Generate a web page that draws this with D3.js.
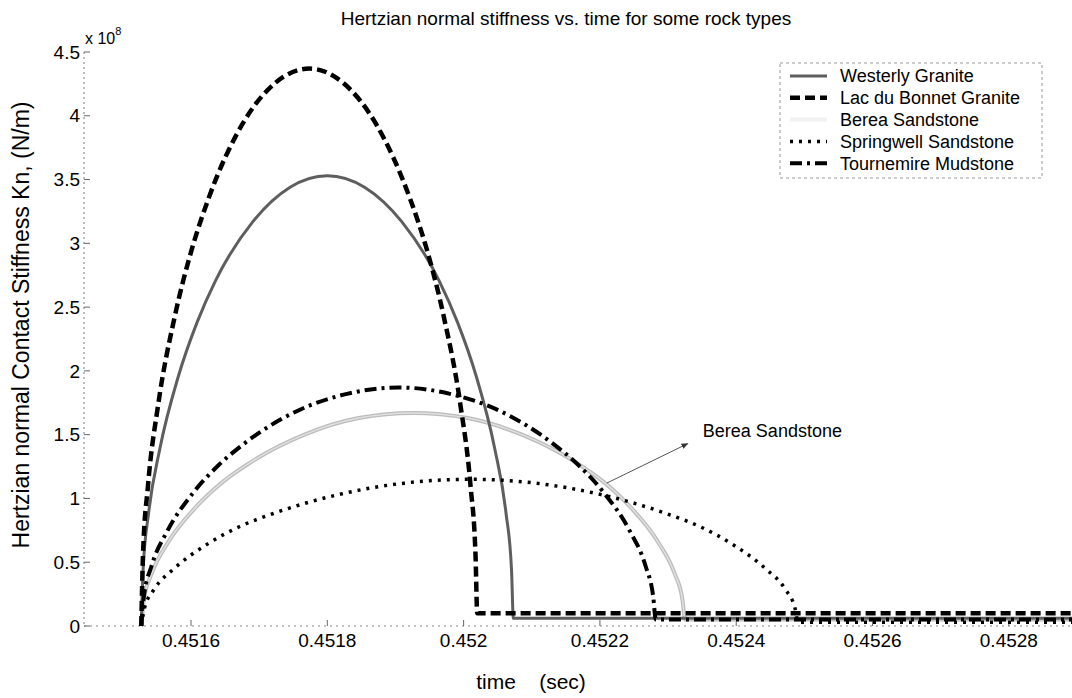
<!DOCTYPE html>
<html><head><meta charset="utf-8">
<script src="https://cdn.jsdelivr.net/npm/d3@7"></script>
<style>
body{margin:0;background:#fff;}
text{font-family:"Liberation Sans",Arial,sans-serif;fill:#000;}
</style></head>
<body><svg id="c" width="1072" height="698"></svg>
<script>
// ---- data (stiffness in units of 1e8 N/m) ----
const seriesNames = ["Westerly Granite","Lac du Bonnet Granite","Berea Sandstone","Springwell Sandstone","Tournemire Mudstone"];
const westerlyT = [0.451527,0.4515297,0.4515379,0.4515543,0.4515816,0.4516089,0.4516362,0.4516908,0.4517454,0.4518000,0.4518546,0.4519092,0.4519638,0.4519911,0.4520184,0.4520457,0.4520621,0.4520703,0.452073,0.4531];
const westerlyK = [0,0.44,0.89,1.39,1.96,2.38,2.71,3.17,3.44,3.53,3.44,3.17,2.71,2.38,1.96,1.39,0.89,0.44,0.06,0.06];
const lacT = [0.451527,0.4515295,0.4515369,0.4515517,0.4515763,0.4516010,0.4516256,0.4516749,0.4517242,0.4517735,0.4518228,0.4518721,0.4519214,0.4519461,0.4519707,0.4519954,0.4520101,0.4520175,0.452020,0.4531];
const lacK = [0,0.55,1.10,1.73,2.43,2.95,3.35,3.93,4.26,4.37,4.26,3.93,3.35,2.95,2.43,1.73,1.10,0.55,0.10,0.10];
const bereaT = [0.451527,0.451531,0.451543,0.4515669,0.4516068,0.4516467,0.4516866,0.4517664,0.4518462,0.451926,0.4520058,0.4520856,0.4521654,0.4522053,0.4522452,0.4522851,0.452309,0.452321,0.452325,0.4531];
const bereaK = [0,0.21,0.42,0.66,0.93,1.13,1.28,1.50,1.63,1.67,1.63,1.50,1.28,1.13,0.93,0.66,0.42,0.21,0.05,0.05];
const springT = [0.451527,0.4515318,0.4515463,0.4515752,0.4516234,0.4516716,0.4517198,0.4518162,0.4519126,0.452009,0.4521054,0.4522018,0.4522982,0.4523464,0.4523946,0.4524428,0.4524717,0.4524862,0.452491,0.4531];
const springK = [0,0.14,0.29,0.45,0.64,0.78,0.88,1.03,1.12,1.15,1.12,1.03,0.88,0.78,0.64,0.45,0.29,0.14,0.03,0.03];
const tourT = [0.451527,0.4515308,0.4515421,0.4515648,0.4516025,0.4516403,0.451678,0.4517535,0.451829,0.4519045,0.45198,0.4520555,0.452131,0.4521688,0.4522065,0.4522443,0.452267,0.4522782,0.452282,0.4531];
const tourK = [0,0.23,0.47,0.74,1.04,1.26,1.43,1.68,1.82,1.87,1.82,1.68,1.43,1.26,1.04,0.74,0.47,0.23,0.05,0.05];
const xTicks = [0.4516,0.4518,0.4520,0.4522,0.4524,0.4526,0.4528];
const xTickLabels = ["0.4516","0.4518","0.452","0.4522","0.4524","0.4526","0.4528"];
const yTicks = [0,0.5,1,1.5,2,2.5,3,3.5,4,4.5];
const yTickLabels = ["0","0.5","1","1.5","2","2.5","3","3.5","4","4.5"];
const arrowFrom = [0.452210, 1.12];
const arrowTo = [0.452329, 1.43];
const annotText = "Berea Sandstone";
const annotPos = [0.452351, 1.53];

// ---- layout ----
const svg = d3.select("#c");
const x = d3.scaleLinear().domain([0.451443, 0.4529]).range([84, 1077]);
const y = d3.scaleLinear().domain([0, 4.5]).range([626, 52]);

const styles = [
  {data:[westerlyT,westerlyK], stroke:"#5e5e5e", width:3, dash:null},
  {data:[lacT,lacK], stroke:"#000", width:4.5, dash:"10,5"},
  {data:[bereaT,bereaK], stroke:"#bcbcbc", width:4, dash:null, hollow:true},
  {data:[springT,springK], stroke:"#000", width:3.5, dash:"3,6"},
  {data:[tourT,tourK], stroke:"#000", width:4, dash:"12,5,3,5"}
];

// axes
const axG = svg.append("g");
axG.append("line").attr("x1",84).attr("x2",84).attr("y1",52).attr("y2",626)
  .attr("stroke","#777").attr("stroke-dasharray","2,3");
axG.append("line").attr("x1",84).attr("x2",1072).attr("y1",626).attr("y2",626)
  .attr("stroke","#888").attr("stroke-dasharray","2,4");
yTicks.forEach((v,i)=>{
  axG.append("line").attr("x1",84).attr("x2",90).attr("y1",y(v)).attr("y2",y(v)).attr("stroke","#666");
  axG.append("text").attr("x",80).attr("y",y(v)).attr("dy","0.35em").attr("text-anchor","end")
    .style("font-size","19px").text(yTickLabels[i]);
});
xTicks.forEach((v,i)=>{
  axG.append("line").attr("x1",x(v)).attr("x2",x(v)).attr("y1",626).attr("y2",620).attr("stroke","#666");
  axG.append("text").attr("x",x(v)).attr("y",647).attr("text-anchor","middle")
    .style("font-size","19px").text(xTickLabels[i]);
});

// lines
const line = d3.line().x(d=>x(d[0])).y(d=>y(d[1])).curve(d3.curveMonotoneX);
svg.append("clipPath").attr("id","cp").append("rect").attr("x",84).attr("y",0).attr("width",1000).attr("height",640);
const lg = svg.append("g").attr("clip-path","url(#cp)");
const order = [2,0,3,4,1];
order.forEach(i=>{
  const s = styles[i];
  const pts = s.data[0].map((t,k)=>[t,s.data[1][k]]);
  const p = lg.append("path").attr("d",line(pts)).attr("fill","none")
    .attr("stroke",s.stroke).attr("stroke-width",s.width);
  if(s.dash) p.attr("stroke-dasharray",s.dash);
  if(s.hollow){
    lg.append("path").attr("d",line(pts)).attr("fill","none").attr("stroke","#e0e0e0").attr("stroke-width",1.5);
  }
});

// annotation
svg.append("defs").append("marker").attr("id","ah").attr("viewBox","0 0 10 10").attr("refX",9).attr("refY",5)
  .attr("markerWidth",7).attr("markerHeight",7).attr("orient","auto")
  .append("path").attr("d","M0,1 L10,5 L0,9 z").attr("fill","#333");
svg.append("line").attr("x1",x(arrowFrom[0])).attr("y1",y(arrowFrom[1]))
  .attr("x2",x(arrowTo[0])).attr("y2",y(arrowTo[1])).attr("stroke","#555").attr("stroke-width",1)
  .attr("marker-end","url(#ah)");
svg.append("text").attr("x",x(annotPos[0])).attr("y",y(annotPos[1])).attr("dy","0.35em")
  .style("font-size","18px").text(annotText);

// legend
const leg = svg.append("g");
leg.append("rect").attr("x",780).attr("y",63).attr("width",262).attr("height",115)
  .attr("fill","#fff").attr("stroke","#999").attr("stroke-dasharray","3,3");
seriesNames.forEach((n,i)=>{
  const yy = 76 + i*21.8;
  const s = styles[i];
  const l = leg.append("line").attr("x1",790).attr("x2",827).attr("y1",yy).attr("y2",yy)
    .attr("stroke", s.hollow ? "#f2f2f2" : s.stroke).attr("stroke-width",s.width);
  if(s.dash) l.attr("stroke-dasharray",s.dash);
  leg.append("text").attr("x",840).attr("y",yy).attr("dy","0.35em").style("font-size","18px").text(n);
});

// titles
svg.append("text").attr("x",566).attr("y",18).attr("dy","0.35em").attr("text-anchor","middle")
  .style("font-size","19px").text("Hertzian normal stiffness vs. time for some rock types");
svg.append("text").attr("x",531).attr("y",682).attr("dy","0.35em").attr("text-anchor","middle")
  .style("font-size","21px").attr("xml:space","preserve").text("time    (sec)");
svg.append("text").attr("transform","translate(21,325) rotate(-90)").attr("dy","0.35em").attr("text-anchor","middle")
  .style("font-size","23px").text("Hertzian normal Contact Stiffness Kn, (N/m)");
const ex = svg.append("text").attr("x",85).attr("y",44).style("font-size","16px");
ex.append("tspan").text("x 10");
ex.append("tspan").attr("dy","-9").style("font-size","11px").text("8");
</script></body></html>
